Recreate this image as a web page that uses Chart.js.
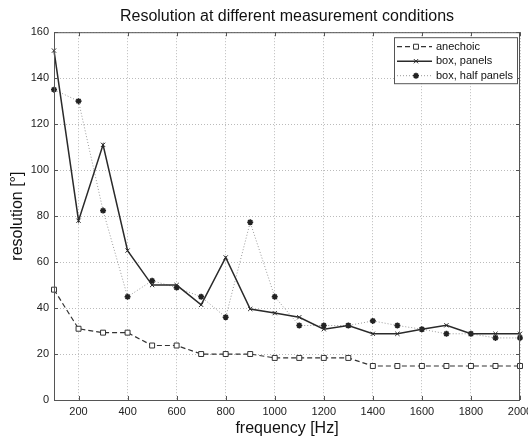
<!DOCTYPE html>
<html>
<head>
<meta charset="utf-8">
<script src="https://cdn.jsdelivr.net/npm/chart.js@4/dist/chart.umd.min.js"></script>
<style>
  html, body { margin: 0; padding: 0; background: #fff; }
  #wrap { width: 528px; height: 440px; }
</style>
</head>
<body>
<div id="wrap"><canvas id="resChart" width="528" height="440"></canvas></div>
<script>
const frequencies = [100, 200, 300, 400, 500, 600, 700, 800, 900, 1000, 1100, 1200, 1300, 1400, 1500, 1600, 1700, 1800, 1900, 2000];
const anechoic = [48, 31, 29.3, 29.3, 23.7, 23.7, 20, 20, 20, 18.3, 18.3, 18.3, 18.3, 14.8, 14.8, 14.8, 14.8, 14.8, 14.8, 14.8];
const boxPanels = [152, 78, 111, 65, 50, 50, 41.4, 62, 39.6, 37.8, 36, 30.8, 32.4, 28.8, 28.8, 30.8, 32.5, 28.8, 28.8, 28.8];
const boxHalfPanels = [135, 130, 82.4, 44.9, 51.9, 48.9, 44.9, 36, 77.3, 44.9, 32.4, 32.4, 32.4, 34.4, 32.4, 30.8, 28.8, 28.8, 27, 27];
const xTicks = [200, 400, 600, 800, 1000, 1200, 1400, 1600, 1800, 2000];
const yTicks = [0, 20, 40, 60, 80, 100, 120, 140, 160];

const FONT = "'Liberation Sans', Arial, sans-serif";

const toPoints = (vals) => vals.map((v, i) => ({ x: frequencies[i], y: v }));

// frame + inner tick marks + legend box, MATLAB style
const framePlugin = {
  id: 'frame',
  afterDraw(chart) {
    const { ctx, chartArea: a, scales } = chart;
    ctx.save();
    ctx.strokeStyle = '#555';
    ctx.lineWidth = 1;
    ctx.strokeRect(a.left + 0.5, a.top + 0.5, a.right - a.left - 1, a.bottom - a.top);
    ctx.beginPath();
    xTicks.forEach(v => {
      const x = Math.round(scales.x.getPixelForValue(v)) + 0.5;
      ctx.moveTo(x, a.bottom); ctx.lineTo(x, a.bottom - 4);
      ctx.moveTo(x, a.top); ctx.lineTo(x, a.top + 4);
    });
    yTicks.forEach(v => {
      const y = Math.round(scales.y.getPixelForValue(v)) + 0.5;
      ctx.moveTo(a.left, y); ctx.lineTo(a.left + 4, y);
      ctx.moveTo(a.right, y); ctx.lineTo(a.right - 4, y);
    });
    ctx.stroke();

    // legend
    const lx = a.right - 126, ly = a.top + 5, lw = 123, lh = 46;
    ctx.fillStyle = '#fff';
    ctx.fillRect(lx, ly, lw, lh);
    ctx.strokeStyle = '#555';
    ctx.strokeRect(lx + 0.5, ly + 0.5, lw, lh);
    ctx.font = '11px ' + FONT;
    ctx.textBaseline = 'middle';
    chart.data.datasets.forEach((ds, i) => {
      const y = ly + 9.5 + i * 14.5;
      ctx.save();
      ctx.strokeStyle = ds.borderColor;
      ctx.lineWidth = ds.borderWidth;
      ctx.setLineDash(ds.borderDash || []);
      ctx.beginPath();
      ctx.moveTo(lx + 3, y); ctx.lineTo(lx + 38, y);
      ctx.stroke();
      ctx.restore();
      ctx.save();
      ctx.fillStyle = ds.pointBackgroundColor;
      ctx.strokeStyle = ds.pointBorderColor;
      ctx.lineWidth = ds.pointBorderWidth;
      Chart.helpers.drawPoint(ctx, {
        pointStyle: ds.pointStyle,
        radius: ds.pointRadius,
        borderWidth: ds.pointBorderWidth
      }, lx + 22, y);
      ctx.restore();
      ctx.fillStyle = '#111';
      ctx.fillText(ds.label, lx + 42, y);
    });
    ctx.restore();
  }
};

new Chart(document.getElementById('resChart'), {
  type: 'line',
  data: {
    datasets: [
      {
        label: 'anechoic',
        data: toPoints(anechoic),
        borderColor: '#333',
        borderWidth: 1.2,
        borderDash: [5, 3],
        pointStyle: 'rect',
        pointRadius: 3.5,
        pointBorderWidth: 1,
        pointBackgroundColor: '#fff',
        pointBorderColor: '#333',
        clip: false
      },
      {
        label: 'box, panels',
        data: toPoints(boxPanels),
        borderColor: '#2a2a2a',
        borderWidth: 1.5,
        pointStyle: 'crossRot',
        pointRadius: 3,
        pointBorderWidth: 1,
        pointBackgroundColor: '#2a2a2a',
        pointBorderColor: '#2a2a2a',
        clip: false
      },
      {
        label: 'box, half panels',
        data: toPoints(boxHalfPanels),
        borderColor: '#999',
        borderWidth: 1,
        borderDash: [1, 2],
        pointStyle: 'star',
        pointRadius: 3,
        pointBorderWidth: 1.6,
        pointBackgroundColor: '#222',
        pointBorderColor: '#222',
        clip: false
      }
    ]
  },
  options: {
    responsive: false,
    animation: false,
    layout: { padding: { left: 4, right: 8, top: 2, bottom: 2 } },
    plugins: {
      legend: { display: false },
      tooltip: { enabled: false },
      title: {
        display: true,
        fullSize: false,
        text: 'Resolution at different measurement conditions',
        color: '#111',
        font: { family: FONT, size: 16, weight: 'normal' },
        padding: { top: 5, bottom: 6 }
      }
    },
    scales: {
      x: {
        type: 'linear',
        min: 100,
        max: 2000,
        afterBuildTicks: (axis) => { axis.ticks = xTicks.map(v => ({ value: v })); },
        afterFit: (scale) => { scale.height = 38; scale.paddingRight = 0; scale.paddingLeft = 0; },
        border: { display: false, dash: [1, 2] },
        grid: { color: '#bbb', drawTicks: false },
        ticks: {
          color: '#222',
          font: { family: FONT, size: 11 },
          padding: 5,
          maxRotation: 0,
          callback: (v) => String(v)
        },
        title: {
          display: true,
          text: 'frequency [Hz]',
          color: '#111',
          font: { family: FONT, size: 16 },
          padding: { top: 0, bottom: 0 }
        }
      },
      y: {
        min: 0,
        max: 160,
        afterBuildTicks: (axis) => { axis.ticks = yTicks.map(v => ({ value: v })); },
        afterFit: (scale) => { scale.width = 50; },
        border: { display: false, dash: [1, 2] },
        grid: { color: '#bbb', drawTicks: false },
        ticks: { color: '#222', font: { family: FONT, size: 11 }, padding: 5, callback: (v) => String(v) },
        title: {
          display: true,
          text: 'resolution [°]',
          color: '#111',
          font: { family: FONT, size: 16 },
          padding: { top: 4, bottom: 0 }
        }
      }
    }
  },
  plugins: [framePlugin]
});
</script>
</body>
</html>
